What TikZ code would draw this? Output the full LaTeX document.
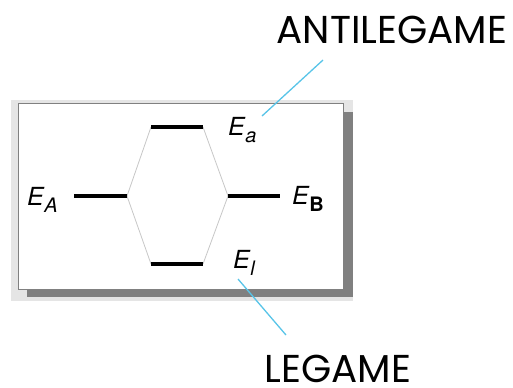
\documentclass[tikz,border=0pt]{standalone}
\usepackage{fontspec}
\setmainfont{TeX Gyre Heros}
\newfontfamily\labelfont{Poppins}
% energy symbol with a large, lowered subscript
\newcommand{\energysym}[1]{{\itshape E}\kern0.5bp\raisebox{-7bp}{\fontsize{20}{20}\selectfont #1}}
\begin{document}
\begin{tikzpicture}[x=1bp,y=-1bp,
  level/.style={line width=4bp,black},
  link/.style={line width=0.8bp,black!22},
  pointer/.style={line width=1.3bp,color=skyblue},
  energy/.style={font=\fontsize{25}{25}\selectfont,inner sep=0pt,anchor=base west},
  title/.style={font=\labelfont\fontsize{39}{39}\selectfont,inner sep=0pt,anchor=base}]
  \definecolor{skyblue}{RGB}{88,196,232}
  \useasboundingbox (0,0) rectangle (513,387);
  % framed panel with drop shadow
  \fill[black!10] (11,100) rectangle (353,301);
  \fill[black!50] (27,112) rectangle (353,297);
  \draw[fill=white,draw=black!50,line width=1bp] (18,103) rectangle (343,289);
  % energy levels
  \coordinate (a1) at (74,196);  \coordinate (a2) at (127,196);
  \coordinate (b1) at (228,196); \coordinate (b2) at (280,196);
  \coordinate (t1) at (151,127); \coordinate (t2) at (203,127);
  \coordinate (l1) at (151,264); \coordinate (l2) at (203,264);
  \draw[link] (a2) -- (t1) (t2) -- (b1) (a2) -- (l1) (l2) -- (b1);
  \draw[level] (a1) -- (a2);
  \draw[level] (b1) -- (b2);
  \draw[level] (t1) -- (t2);
  \draw[level] (l1) -- (l2);
  % labels
  \node[energy] (EA) at (27,205) {\energysym{\itshape A}};
  \node[energy] (EB) at (292,204) {\energysym{\bfseries B}};
  \node[energy] (Ea) at (228,135) {\energysym{\itshape a}};
  \node[energy] (El) at (233,268) {\energysym{\itshape l}};
  \node[title] (anti) at (392,43) {ANTILEGAME};
  \node[title] (bond) at (338,382) {LEGAME};
  % pointers
  \coordinate (p1) at (323,60);  \coordinate (p2) at (262,116);
  \coordinate (q1) at (238,279); \coordinate (q2) at (286,335);
  \draw[pointer] (p1) -- (p2);
  \draw[pointer] (q1) -- (q2);
\end{tikzpicture}
\end{document}
